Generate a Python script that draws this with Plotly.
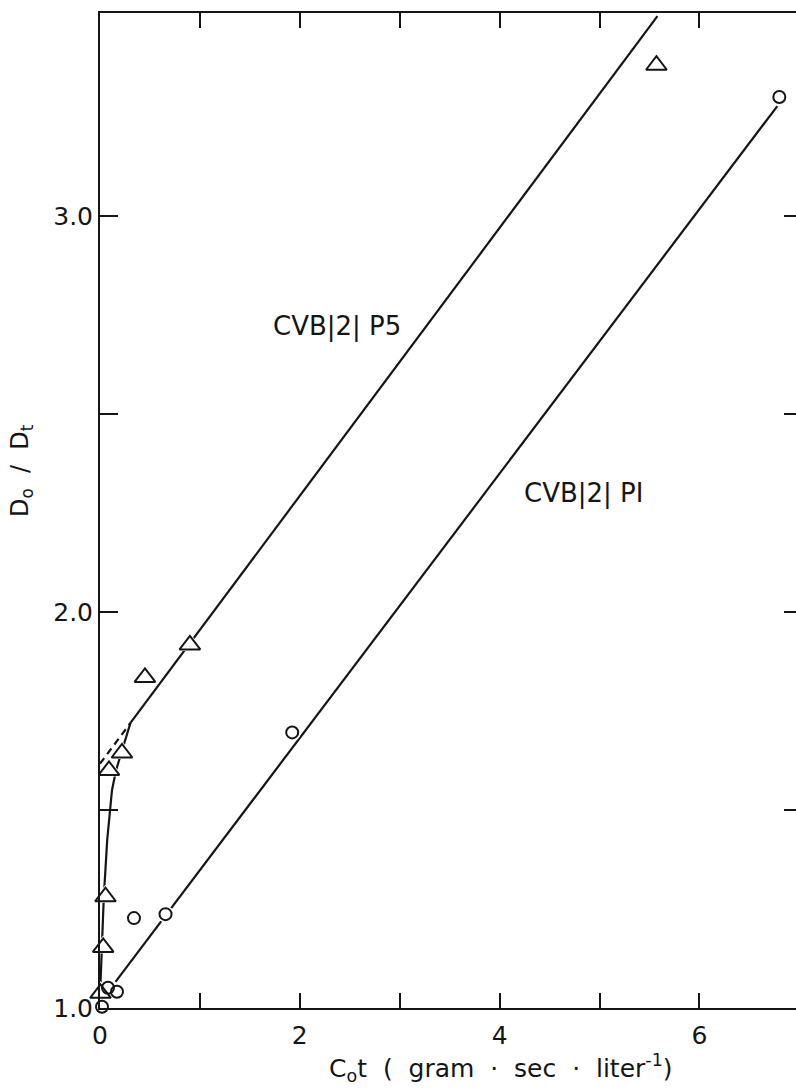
import plotly.graph_objects as go

# Observed points, CVB|2|P5 (triangles)
p5_x = [0.005, 0.032, 0.055, 0.09, 0.22, 0.45, 0.90, 5.57]
p5_y = [1.037, 1.153, 1.281, 1.60, 1.644, 1.835, 1.917, 3.381]

# Observed points, CVB|2|P1 (circles)
p1_x = [0.02, 0.08, 0.17, 0.34, 0.656, 1.924, 6.80]
p1_y = [1.003, 1.051, 1.041, 1.227, 1.237, 1.696, 3.301]

# Hand-drawn initial curve of P5
p5_curve_x = [0.0, 0.01, 0.022, 0.038, 0.072, 0.12, 0.16, 0.22, 0.305]
p5_curve_y = [1.03, 1.10, 1.17, 1.28, 1.424, 1.55, 1.60, 1.65, 1.72]

# Linear portions (end points of the drawn lines)
p5_line_x = [0.305, 5.58]
p5_line_y = [1.72, 3.505]
p5_dash_x = [0.0, 0.305]
p5_dash_y = [1.617, 1.72]
p1_line_x = [0.155, 6.78]
p1_line_y = [1.066, 3.278]

x_tickvals = [0, 1, 2, 3, 4, 5, 6]
x_ticktext = ["0", "", "2", "", "4", "", "6"]
y_tickvals = [1.0, 1.5, 2.0, 2.5, 3.0]
y_ticktext = ["1.0", "", "2.0", "", "3.0"]

INK = "#151515"
FONT = "DejaVu Sans"

fig = go.Figure()

def line(x, y, dash="solid"):
    fig.add_trace(go.Scatter(x=x, y=y, mode="lines",
                             line=dict(color=INK, width=2.2, dash=dash),
                             hoverinfo="skip", showlegend=False, cliponaxis=False))

line(p5_curve_x, p5_curve_y)
line(p5_line_x, p5_line_y)
line(p5_dash_x, p5_dash_y, dash="7px,5px")
line(p1_line_x, p1_line_y)

# white halos so lines break around the symbols
for xs, ys, sym, sz in [(p5_x, p5_y, "triangle-up", 24), (p1_x, p1_y, "circle", 17)]:
    fig.add_trace(go.Scatter(x=xs, y=ys, mode="markers",
                             marker=dict(symbol=sym, size=sz, color="white", line=dict(width=0)),
                             hoverinfo="skip", showlegend=False, cliponaxis=False))

fig.add_trace(go.Scatter(x=p5_x, y=p5_y, mode="markers", name="CVB|2|P5",
                         marker=dict(symbol="triangle-up-open", size=18, color=INK,
                                     line=dict(width=2, color=INK)),
                         showlegend=False, cliponaxis=False))
fig.add_trace(go.Scatter(x=p1_x, y=p1_y, mode="markers", name="CVB|2|P1",
                         marker=dict(symbol="circle-open", size=12, color=INK,
                                     line=dict(width=2, color=INK)),
                         showlegend=False, cliponaxis=False))

# invisible trace to carry the right-hand tick marks
fig.add_trace(go.Scatter(x=[0], y=[1.0], yaxis="y2", mode="markers",
                         marker=dict(opacity=0), hoverinfo="skip", showlegend=False))

fig.add_annotation(x=1.707, y=2.722, xref="x", yref="y", xanchor="left", yanchor="middle",
                   text="CVB|2| P5", showarrow=False,
                   font=dict(family=FONT, size=26, color=INK))
fig.add_annotation(x=5.46, y=2.30, xref="x", yref="y", xanchor="right", yanchor="middle",
                   text="CVB|2| PI", showarrow=False,
                   font=dict(family=FONT, size=26, color=INK))

# axis titles
fig.add_annotation(x=0.576, y=-0.0603, xref="paper", yref="paper",
                   xanchor="center", yanchor="middle", showarrow=False,
                   text="C<sub>o</sub>t  (  gram  ·  sec  ·  liter<sup>-1</sup>)",
                   font=dict(family=FONT, size=25, color=INK))
fig.add_annotation(x=-0.112, y=0.5397, xref="paper", yref="paper",
                   xanchor="center", yanchor="middle", showarrow=False, textangle=-90,
                   text="D<sub>o</sub>  /  D<sub>t</sub>",
                   font=dict(family=FONT, size=24, color=INK))

fig.update_layout(
    width=796, height=1088,
    margin=dict(l=100, r=0, t=13, b=80),
    paper_bgcolor="white", plot_bgcolor="white",
    font=dict(family=FONT, color=INK),
    xaxis=dict(range=[0, 6.967], tickvals=x_tickvals, ticktext=x_ticktext,
               showline=True, linecolor=INK, linewidth=2, mirror="ticks",
               ticks="inside", ticklen=15, tickwidth=2, tickcolor=INK,
               showgrid=False, zeroline=False, ticklabelstandoff=4,
               tickfont=dict(size=25, family=FONT)),
    yaxis=dict(range=[1.0, 3.513], tickvals=y_tickvals, ticktext=y_ticktext,
               showline=True, linecolor=INK, linewidth=2, mirror=False,
               ticks="inside", ticklen=18, tickwidth=2, tickcolor=INK,
               showgrid=False, zeroline=False,
               tickfont=dict(size=25, family=FONT)),
    yaxis2=dict(range=[1.0, 3.513], overlaying="y", side="right",
                tickvals=[1.5, 2.0, 2.5, 3.0], showticklabels=False,
                ticks="inside", ticklen=12, tickwidth=2, tickcolor=INK,
                showline=False, showgrid=False, zeroline=False),
)

fig.write_html("out.html")
